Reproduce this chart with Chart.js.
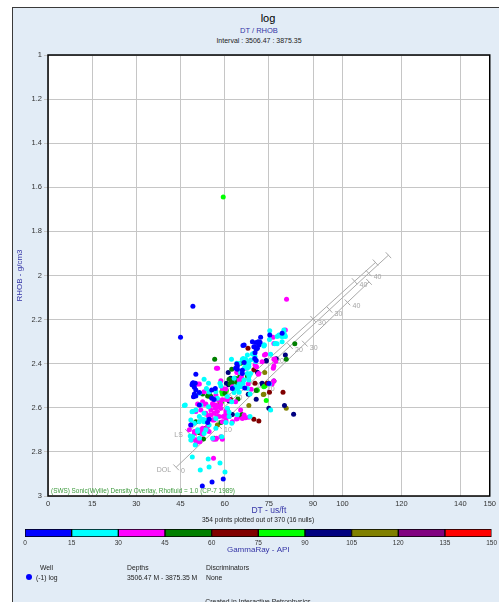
<!DOCTYPE html>
<html>
<head>
<meta charset="utf-8">
<title>log - DT / RHOB</title>
<script src="https://cdn.jsdelivr.net/npm/chart.js@4.4.1/dist/chart.umd.min.js"></script>
<style>
  body { margin: 0; width: 499px; height: 602px; overflow: hidden; position: relative; background: #fff;
         font-family: "Liberation Sans", Arial, sans-serif; }
  #panel { position: absolute; left: 12px; top: 7px; width: 520px; height: 620px;
           border: 1px solid #3a3a3a; background: #e2ecf6; }
  .txt { position: absolute; white-space: nowrap; color: #222; font-size: 6.8px; line-height: 8px; }
  .ctr { width: 300px; text-align: center; }
  canvas { position: absolute; left: 0; }
</style>
</head>
<body>
<div id="panel"></div>

<div class="txt ctr" style="left:118px; top:12px; font-size:11px; line-height:13px; color:#000">log</div>
<div class="txt ctr" style="left:109px; top:26px; font-size:7.5px; line-height:10px; color:#3434a6">DT / RHOB</div>
<div class="txt ctr" style="left:109px; top:36px; font-size:7px; line-height:10px">Interval : 3506.47 : 3875.35</div>

<canvas id="mainChart" width="499" height="530" style="top:0"></canvas>
<div class="txt ctr" style="left:108px; top:516px; font-size:6.6px">354 points plotted out of 370 (16 nulls)</div>
<canvas id="grChart" width="499" height="41" style="top:520px"></canvas>

<div class="txt" style="left:40px; top:564px">Well</div>
<div style="position:absolute; left:26px; top:574px; width:6px; height:6px; border-radius:50%; background:#0000ff"></div>
<div class="txt" style="left:36px; top:574px">(-1) log</div>
<div class="txt" style="left:127px; top:564px">Depths</div>
<div class="txt" style="left:127px; top:574px">3506.47 M - 3875.35 M</div>
<div class="txt" style="left:206px; top:564px">Discriminators</div>
<div class="txt" style="left:206px; top:574px">None</div>
<div class="txt ctr" style="left:108px; top:598px">Created in Interactive Petrophysics</div>

<script>
const FONT = '"Liberation Sans", Arial, sans-serif';

// axis ticks
const xTicks = [0, 15, 30, 45, 60, 75, 90, 100, 120, 140, 150];
const yTicks = [1, 1.2, 1.4, 1.6, 1.8, 2, 2.2, 2.4, 2.6, 2.8, 3];

// GammaRay colour scale
const gammaBins = [0, 15, 30, 45, 60, 75, 90, 105, 120, 135, 150];
const binColors = ['#0000ff', '#00ffff', '#ff00ff', '#008000', '#800000',
                   '#00ff00', '#000080', '#808000', '#800080', '#ff0000'];

// DT (us/ft), RHOB (g/cm3) samples, grouped by GammaRay bin
const gr0_15 = [
  [49.2,2.14],[45.0,2.28],[72.2,2.28],[79.5,2.262],[75.3,2.27],[66.2,2.318],[70.7,2.304],[71.4,2.30],
  [71.6,2.315],[69.9,2.323],[70.7,2.335],[70.3,2.35],[69.4,2.30],[72.0,2.303],[70.2,2.323],[71.1,2.33],
  [66.6,2.315],[70.2,2.376],[70.7,2.386],[64.1,2.401],[66.6,2.395],[64.3,2.425],[66.0,2.444],[63.7,2.421],
  [64.3,2.41],[66.0,2.43],[75.0,2.49],[66.8,2.51],[50.2,2.448],[49.3,2.486],[50.0,2.489],[48.9,2.496],
  [49.7,2.507],[50.2,2.519],[49.7,2.537],[51.4,2.531],[55.6,2.519],[62.6,2.512],[55.6,2.557],[54.7,2.652],
  [49.1,2.489],[49.4,2.55],[50.2,2.546],[56.4,2.562],[56.8,2.512],[51.4,2.587],[48.5,2.678],[54.2,2.667],
  [52.4,2.955],[55.7,2.936],[59.5,2.923]
];
const gr15_30 = [
  [75.3,2.25],[80.1,2.247],[80.4,2.27],[79.8,2.277],[77.8,2.277],[80.1,2.255],[80.6,2.277],[78.4,2.27],
  [79.3,2.277],[77.3,2.308],[77.8,2.31],[77.0,2.31],[79.5,2.30],[75.2,2.29],[73.3,2.315],[73.3,2.32],
  [73.5,2.315],[75.6,2.357],[69.9,2.356],[69.9,2.353],[70.3,2.368],[69.4,2.356],[67.7,2.36],[66.3,2.376],
  [66.6,2.39],[70.5,2.39],[64.1,2.398],[62.3,2.38],[64.9,2.398],[67.4,2.39],[68.2,2.401],[68.0,2.413],
  [66.0,2.38],[67.1,2.38],[68.8,2.383],[68.2,2.413],[66.6,2.421],[67.1,2.41],[65.4,2.433],[68.8,2.444],
  [67.7,2.444],[68.2,2.459],[67.7,2.421],[65.4,2.441],[68.2,2.474],
  [54.5,2.489],[53.8,2.512],[54.7,2.528],[58.4,2.489],[63.7,2.504],[63.2,2.466],[66.2,2.489],[67.7,2.512],
  [57.5,2.557],[60.9,2.549],[51.9,2.587],[62.4,2.572],[75.6,2.61],[64.3,2.632],[61.5,2.62],[60.9,2.602],
  [46.3,2.59],[49.1,2.617],[51.4,2.64],[53.0,2.663],[57.0,2.648],[57.0,2.693],[50.8,2.70],[48.5,2.655],
  [49.7,2.67],[53.6,2.70],[61.5,2.64],[48.3,2.728],[50.0,2.769],[53.0,2.471],[51.4,2.534],[57.0,2.527],
  [58.7,2.501],[64.9,2.492],[66.6,2.474],[65.4,2.504],[64.3,2.516],[63.2,2.531],[68.6,2.537],[75.2,2.492],
  [62.4,2.67],[54.5,2.595],[50.2,2.61],[48.9,2.618],[46.6,2.587],[51.4,2.663],[52.5,2.652],[53.6,2.655],
  [53.0,2.625],[54.7,2.678],[50.8,2.708],[49.1,2.731],[48.5,2.746],[51.4,2.738],[55.9,2.738],[59.0,2.731],
  [60.4,2.667],[53.0,2.716],[64.9,2.53],[68.6,2.64],
  [49.0,2.823],[54.4,2.832],[58.4,2.85],[51.7,2.882],[54.7,2.868],[60.1,2.891]
];
const gr30_45 = [
  [81.0,2.108],[80.6,2.247],[76.4,2.28],[76.7,2.308],[73.5,2.36],[73.9,2.357],[72.7,2.391],[77.0,2.379],
  [76.7,2.38],[77.3,2.39],[76.7,2.41],[70.3,2.406],[70.8,2.414],[76.5,2.421],[71.4,2.448],[65.7,2.462],
  [76.7,2.478],[76.1,2.492],[57.2,2.421],[57.6,2.421],[64.3,2.44],[64.1,2.439],[67.1,2.421],[71.6,2.444],
  [50.8,2.492],[50.2,2.492],[51.4,2.492],[53.0,2.527],[58.7,2.477],[64.9,2.474],[69.0,2.516],[59.2,2.512],
  [60.4,2.515],[62.6,2.504],[68.0,2.492],[57.0,2.542],[59.2,2.564],[61.5,2.564],[52.5,2.572],[50.8,2.583],
  [53.6,2.583],[55.9,2.58],[57.0,2.587],[57.9,2.595],[58.7,2.583],[63.7,2.572],[60.6,2.562],[57.9,2.565],
  [55.9,2.587],[53.0,2.584],[51.9,2.61],[66.0,2.648],[68.2,2.643],[65.4,2.61],[60.4,2.613],[50.2,2.617],
  [53.6,2.625],[55.9,2.655],[58.1,2.64],[54.2,2.685],[52.5,2.693],[49.7,2.708],[48.5,2.678],[48.0,2.70],
  [52.3,2.716],[59.2,2.663],[62.6,2.663],[57.2,2.738],[58.7,2.731],[50.6,2.746],[48.8,2.746],[51.6,2.753],
  [66.6,2.633],[64.0,2.651],[60.4,2.663],[61.5,2.64],[54.5,2.64],[55.3,2.633],[56.4,2.625],[57.5,2.617],
  [51.9,2.70],[49.7,2.716],[50.2,2.746],[51.4,2.754],[50.2,2.764],[54.7,2.708],[56.2,2.743],[60.4,2.655],
  [59.2,2.743],[57.0,2.743],[56.4,2.655],[55.3,2.61],[56.8,2.602],[58.7,2.602],[60.4,2.625],[60.9,2.637],
  [59.5,2.64],[57.5,2.64],[52.5,2.72],[67.1,2.645],[64.3,2.648],[56.2,2.829]
];
const gr45_60 = [
  [83.8,2.31],[80.9,2.38],[56.6,2.38],[62.4,2.425],[65.4,2.459],[68.2,2.456],[62.4,2.481],[61.8,2.492],
  [60.1,2.534],[54.5,2.546],[55.3,2.549],[51.4,2.713],[56.4,2.738],[65.4,2.398],[65.1,2.459],[63.5,2.466],
  [61.5,2.471],[62.3,2.489],[64.0,2.486],[66.0,2.486],[70.7,2.522],[52.5,2.537],[54.7,2.534],[54.2,2.546],
  [55.3,2.55],[65.8,2.63],[50.2,2.663],[53.6,2.693],[52.8,2.741],[58.7,2.667],[64.1,2.471],[67.7,2.456],
  [65.7,2.64],[64.5,2.56]
];
const gr60_75 = [
  [67.9,2.33],[69.9,2.428],[70.3,2.489],[75.0,2.489],[75.2,2.53],[79.8,2.53],[69.9,2.652],[71.6,2.66],
  [74.4,2.489],[62.0,2.562]
];
const gr75_90 = [
  [59.5,1.644],[59.0,2.527],[60.9,2.61],[70.8,2.519],[73.7,2.501],[74.1,2.567],[73.3,2.504],[59.2,2.537],
  [60.6,2.522],[59.0,2.572],[71.1,2.52]
];
const gr90_105 = [
  [80.6,2.36],[77.5,2.378],[61.2,2.44],[71.1,2.439],[61.3,2.496],[72.7,2.489],[76.7,2.478],[70.7,2.561],
  [75.0,2.602],[80.3,2.59],[83.4,2.629],[74.1,2.386],[62.0,2.466],[60.6,2.489],[68.0,2.539],[72.8,2.492],
  [62.6,2.63],[61.5,2.569],[74.1,2.388]
];
const gr105_120 = [
  [73.6,2.44],[73.3,2.539],[68.2,2.59],[80.9,2.602],[57.5,2.678],[58.3,2.58],[73.1,2.54]
];
const gr120_135 = [];
const gr135_150 = [];
const binPoints = [gr0_15, gr15_30, gr30_45, gr45_60, gr60_75, gr75_90, gr90_105, gr105_120, gr120_135, gr135_150];

// Wyllie sonic/density overlay, porosity 0..40 % plus line end
const porosityTicks = [0, 10, 20, 30, 40];
const ssDT    = [55.5, 68.9, 82.2, 95.6, 108.9, 115.6];
const ssRHOB  = [2.65, 2.485, 2.32, 2.155, 1.99, 1.908];
const lsDT    = [47.5, 61.7, 75.8, 90.0, 104.1, 111.2];
const lsRHOB  = [2.71, 2.539, 2.368, 2.197, 2.026, 1.941];
const dolDT   = [43.5, 58.1, 72.6, 87.2, 101.7, 109.0];
const dolRHOB = [2.87, 2.683, 2.496, 2.309, 2.122, 2.029];
const overlayNote = '(SWS) Sonic(Wyllie) Density Overlay, Rhofluid = 1.0 (CP-7 1989)';

const lithLines = [
  { name: 'SS', dt: ssDT, rhob: ssRHOB },
  { name: 'LS', dt: lsDT, rhob: lsRHOB },
  { name: 'DOL', dt: dolDT, rhob: dolRHOB }
];
const overlayColor = '#a9a9a9';
const gridColor = '#c6c6c6';
const titleBlue = '#3434a6';

// white plot area, black frame and overlay caption
const plotFrame = {
  id: 'plotFrame',
  beforeDraw(chart) {
    const { ctx, chartArea: a } = chart;
    ctx.save();
    ctx.fillStyle = '#fff';
    ctx.fillRect(a.left, a.top, a.right - a.left, a.bottom - a.top);
    ctx.restore();
  },
  afterDraw(chart) {
    const { ctx, chartArea: a } = chart;
    ctx.save();
    ctx.strokeStyle = '#000';
    ctx.lineWidth = 1.5;
    ctx.strokeRect(a.left, a.top, a.right - a.left, a.bottom - a.top);
    ctx.fillStyle = '#3d9a3d';
    ctx.font = '6.4px ' + FONT;
    ctx.textBaseline = 'middle';
    ctx.fillText(overlayNote, a.left + 3, a.bottom - 5);
    ctx.restore();
  }
};

// porosity tick marks and labels along the lithology lines
const overlayTicks = {
  id: 'overlayTicks',
  beforeDatasetsDraw(chart) {
    const { ctx, scales: { x, y } } = chart;
    ctx.save();
    ctx.strokeStyle = overlayColor;
    ctx.fillStyle = '#a4a4a4';
    ctx.lineWidth = 1;
    ctx.font = '7px ' + FONT;
    ctx.textBaseline = 'middle';
    lithLines.forEach(line => {
      const px = line.dt.map(v => x.getPixelForValue(v));
      const py = line.rhob.map(v => y.getPixelForValue(v));
      const n = px.length;
      const dx = px[n - 1] - px[0], dy = py[n - 1] - py[0];
      const len = Math.hypot(dx, dy);
      const nx = -dy / len, ny = dx / len;
      for (let i = 0; i < n; i++) {
        ctx.beginPath();
        ctx.moveTo(px[i] - nx * 4, py[i] - ny * 4);
        ctx.lineTo(px[i] + nx * 4, py[i] + ny * 4);
        ctx.stroke();
        if (i < porosityTicks.length) {
          ctx.textAlign = 'left';
          ctx.fillText(String(porosityTicks[i]), px[i] + 5, py[i] + 4);
        }
      }
      ctx.textAlign = 'right';
      ctx.fillText(line.name, px[0] - 5, py[0] + 3);
    });
    ctx.restore();
  }
};

const pointSets = binPoints.map((pts, i) => ({
  type: 'scatter',
  data: pts.map(([dt, rhob]) => ({ x: dt, y: rhob })),
  backgroundColor: binColors[i],
  borderWidth: 0,
  pointRadius: 2.5,
  pointHoverRadius: 2.5,
  order: 0
}));

const lineSets = lithLines.map(line => ({
  type: 'scatter',
  showLine: true,
  data: line.dt.map((dt, i) => ({ x: dt, y: line.rhob[i] })),
  borderColor: overlayColor,
  borderWidth: 1,
  pointRadius: 0,
  fill: false,
  order: 10
}));

new Chart(document.getElementById('mainChart'), {
  type: 'scatter',
  data: { datasets: [...lineSets, ...pointSets] },
  options: {
    responsive: false,
    animation: false,
    devicePixelRatio: 1,
    layout: { padding: { top: 55, right: 7, left: 0, bottom: 0 } },
    plugins: { legend: { display: false }, tooltip: { enabled: false } },
    scales: {
      x: {
        type: 'linear', min: 0, max: 150,
        afterBuildTicks: s => { s.ticks = xTicks.map(v => ({ value: v })); },
        afterFit: s => { s.height = 34; },
        grid: { color: gridColor, lineWidth: 1, drawTicks: false },
        border: { display: false },
        ticks: { font: { size: 7.5, family: FONT }, color: '#333', padding: 3,
                 maxRotation: 0, autoSkip: false, callback: v => String(v) },
        title: { display: true, text: 'DT - us/ft', color: titleBlue,
                 font: { size: 8.5, family: FONT }, padding: { top: 0, bottom: 14 } }
      },
      y: {
        type: 'linear', reverse: true, min: 1, max: 3,
        afterBuildTicks: s => { s.ticks = yTicks.map(v => ({ value: v })); },
        afterFit: s => { s.width = 48; },
        grid: { color: gridColor, lineWidth: 1, tickLength: 4 },
        border: { display: false },
        ticks: { font: { size: 7.5, family: FONT }, color: '#333', padding: 2, callback: v => String(v) },
        title: { display: true, text: 'RHOB - g/cm3', color: titleBlue,
                 font: { size: 8, family: FONT }, padding: { top: 15, bottom: 0 } }
      }
    }
  },
  plugins: [plotFrame, overlayTicks]
});

// GammaRay colour bar
new Chart(document.getElementById('grChart'), {
  type: 'bar',
  data: {
    labels: ['GammaRay'],
    datasets: gammaBins.slice(1).map((hi, i) => ({
      data: [hi - gammaBins[i]],
      backgroundColor: binColors[i],
      borderColor: '#000',
      borderWidth: 1,
      borderSkipped: false,
      barPercentage: 1,
      categoryPercentage: 1
    }))
  },
  options: {
    indexAxis: 'y',
    responsive: false,
    animation: false,
    devicePixelRatio: 1,
    layout: { padding: { top: 9, left: 25, right: 6, bottom: 0 } },
    plugins: { legend: { display: false }, tooltip: { enabled: false } },
    scales: {
      x: {
        type: 'linear', stacked: true, min: 0, max: 150,
        afterBuildTicks: s => { s.ticks = gammaBins.map(v => ({ value: v })); },
        afterFit: s => { s.height = 24; },
        grid: { display: false, drawTicks: false },
        border: { display: false },
        ticks: { font: { size: 6.5, family: FONT }, color: '#333', padding: 2,
                 maxRotation: 0, autoSkip: false },
        title: { display: true, text: 'GammaRay - API', color: titleBlue,
                 font: { size: 8, family: FONT }, padding: { top: 0, bottom: 6 } }
      },
      y: { stacked: true, display: false }
    }
  }
});
</script>
</body>
</html>
